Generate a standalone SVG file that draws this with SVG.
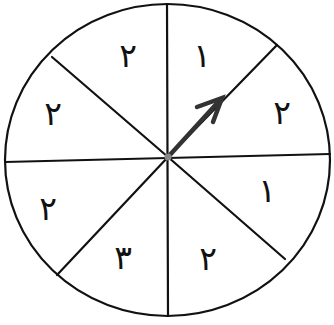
<svg xmlns="http://www.w3.org/2000/svg" width="334" height="325" viewBox="0 0 334 325">
<style>
.l{stroke:#111;stroke-width:2.2;fill:none;stroke-linecap:round}
.t{font-family:"DejaVu Sans",sans-serif;font-size:33px;fill:#111;text-anchor:middle;dominant-baseline:central}
</style>
<rect width="334" height="325" fill="#fff"/>
<g id="wheel">
<ellipse class="l" cx="167.5" cy="160" rx="162.5" ry="156"/>
</g>
<g id="connectors">
<line class="l" x1="5" y1="162" x2="330" y2="154"/>
<line class="l" x1="167" y1="4" x2="168" y2="316"/>
<line class="l" x1="52" y1="57" x2="168" y2="157"/>
<line class="l" x1="277" y1="45" x2="168" y2="157"/>
<line class="l" x1="285" y1="259" x2="168" y2="157"/>
<line class="l" x1="57" y1="275" x2="168" y2="157"/>
</g>
<g id="arrow">
<line x1="168" y1="157" x2="220" y2="100" stroke="#333" stroke-width="4.5" stroke-linecap="round"/>
<polyline points="197,107 222,98 213,122" fill="none" stroke="#333" stroke-width="4.5" stroke-linejoin="miter" stroke-linecap="round"/>
<circle cx="168" cy="157" r="3.5" fill="#888"/>
</g>
<g id="labels">
<text class="t" x="128" y="55">۲</text>
<text class="t" x="202" y="55">۱</text>
<text class="t" x="282" y="112">۲</text>
<text class="t" x="267" y="190">۱</text>
<text class="t" x="208" y="258">۲</text>
<text class="t" x="123" y="257">۳</text>
<text class="t" x="48" y="208">۲</text>
<text class="t" x="53" y="113">۲</text>
</g>
</svg>
